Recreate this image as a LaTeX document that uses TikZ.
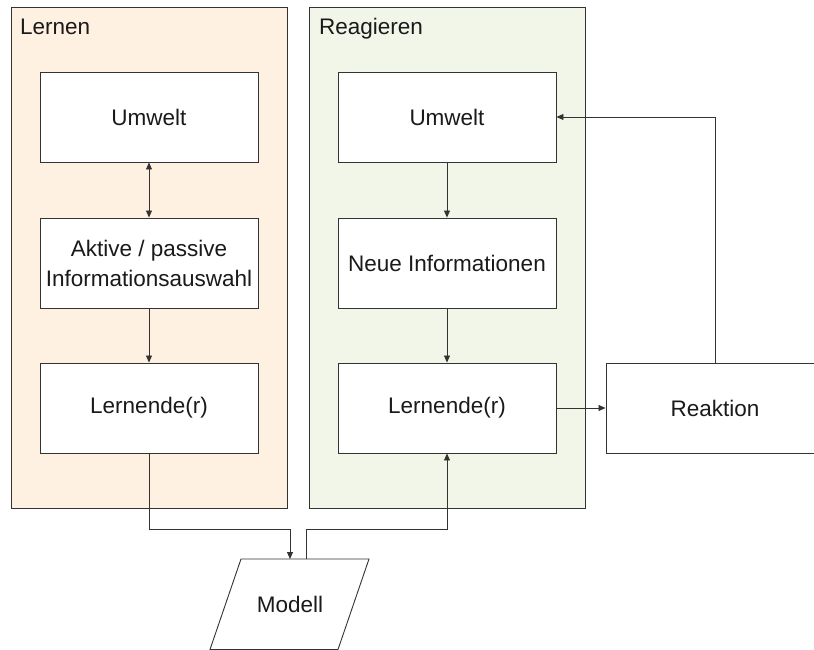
\documentclass[tikz,border=0pt]{standalone}
\usepackage{fontspec}
\setmainfont{Liberation Sans}
\usetikzlibrary{arrows.meta}
\definecolor{lineC}{HTML}{333333}
\definecolor{textC}{HTML}{1A1A1A}
\definecolor{learnFill}{HTML}{FFF1E2}
\definecolor{reactFill}{HTML}{F2F6E8}
\begin{document}
\begin{tikzpicture}[x=1pt,y=-1pt,
  every node/.style={font=\fontsize{22.5}{30}\selectfont,text=textC},
  box/.style={draw=lineC,line width=0.9pt,fill=white,minimum width=218pt,
    minimum height=90pt,align=center,inner sep=0pt},
  panel/.style={draw=lineC,line width=0.9pt},
  conn/.style={draw=lineC,line width=0.8pt,-{Triangle[length=7pt,width=6pt]}},
  conn2/.style={draw=lineC,line width=0.8pt,{Triangle[length=7pt,width=6pt]}-{Triangle[length=7pt,width=6pt]}},
  title/.style={anchor=base west,inner sep=0pt}]
\useasboundingbox (0,0) rectangle (814,650);
\begin{scope}
\clip (0,0) rectangle (814,650);

% the two panels
\draw[panel,fill=learnFill] (11,7) rectangle (287,508);
\draw[panel,fill=reactFill] (309,7) rectangle (585,508);
\node[title] (tLern) at (20,35) {Lernen};
\node[title] (tReag) at (319,35) {Reagieren};

% learning column
\node[box] (lU) at (149,117) {Umwelt};
\node[box] (lA) at (149,263) {Aktive / passive\\Informationsauswahl};
\node[box] (lL) at (149,408) {Lernende(r)};

% reacting column
\node[box] (rU) at (447,117) {Umwelt};
\node[box] (rN) at (447,263) {Neue Informationen};
\node[box] (rL) at (447,408) {Lernende(r)};

% reaction box
\node[box] (reak) at (715,408) {Reaktion};

% model (parallelogram)
\coordinate (mTL) at (241,559);
\coordinate (mTR) at (369,559);
\coordinate (mBR) at (338,649.5);
\coordinate (mBL) at (210,649.5);
\draw[draw=lineC,line width=0.9pt,fill=white] (mTL) -- (mTR) -- (mBR) -- (mBL) -- cycle;
\node (modell) at (290,604) {Modell};
\coordinate (mIn) at (290,559);
\coordinate (mOut) at (306,559);

% connectors
\draw[conn2] (lU) -- (lA);
\draw[conn] (lA) -- (lL);
\draw[conn] (rU) -- (rN);
\draw[conn] (rN) -- (rL);
\draw[conn] (lL.south) -- ++(0,76) -| (mIn);
\draw[conn] (mOut) -- ++(0,-30) -| (rL.south);
\draw[conn] (rL.east) -- (reak.west);
\draw[conn] (reak.north) |- (rU.east);
\end{scope}
\end{tikzpicture}
\end{document}
